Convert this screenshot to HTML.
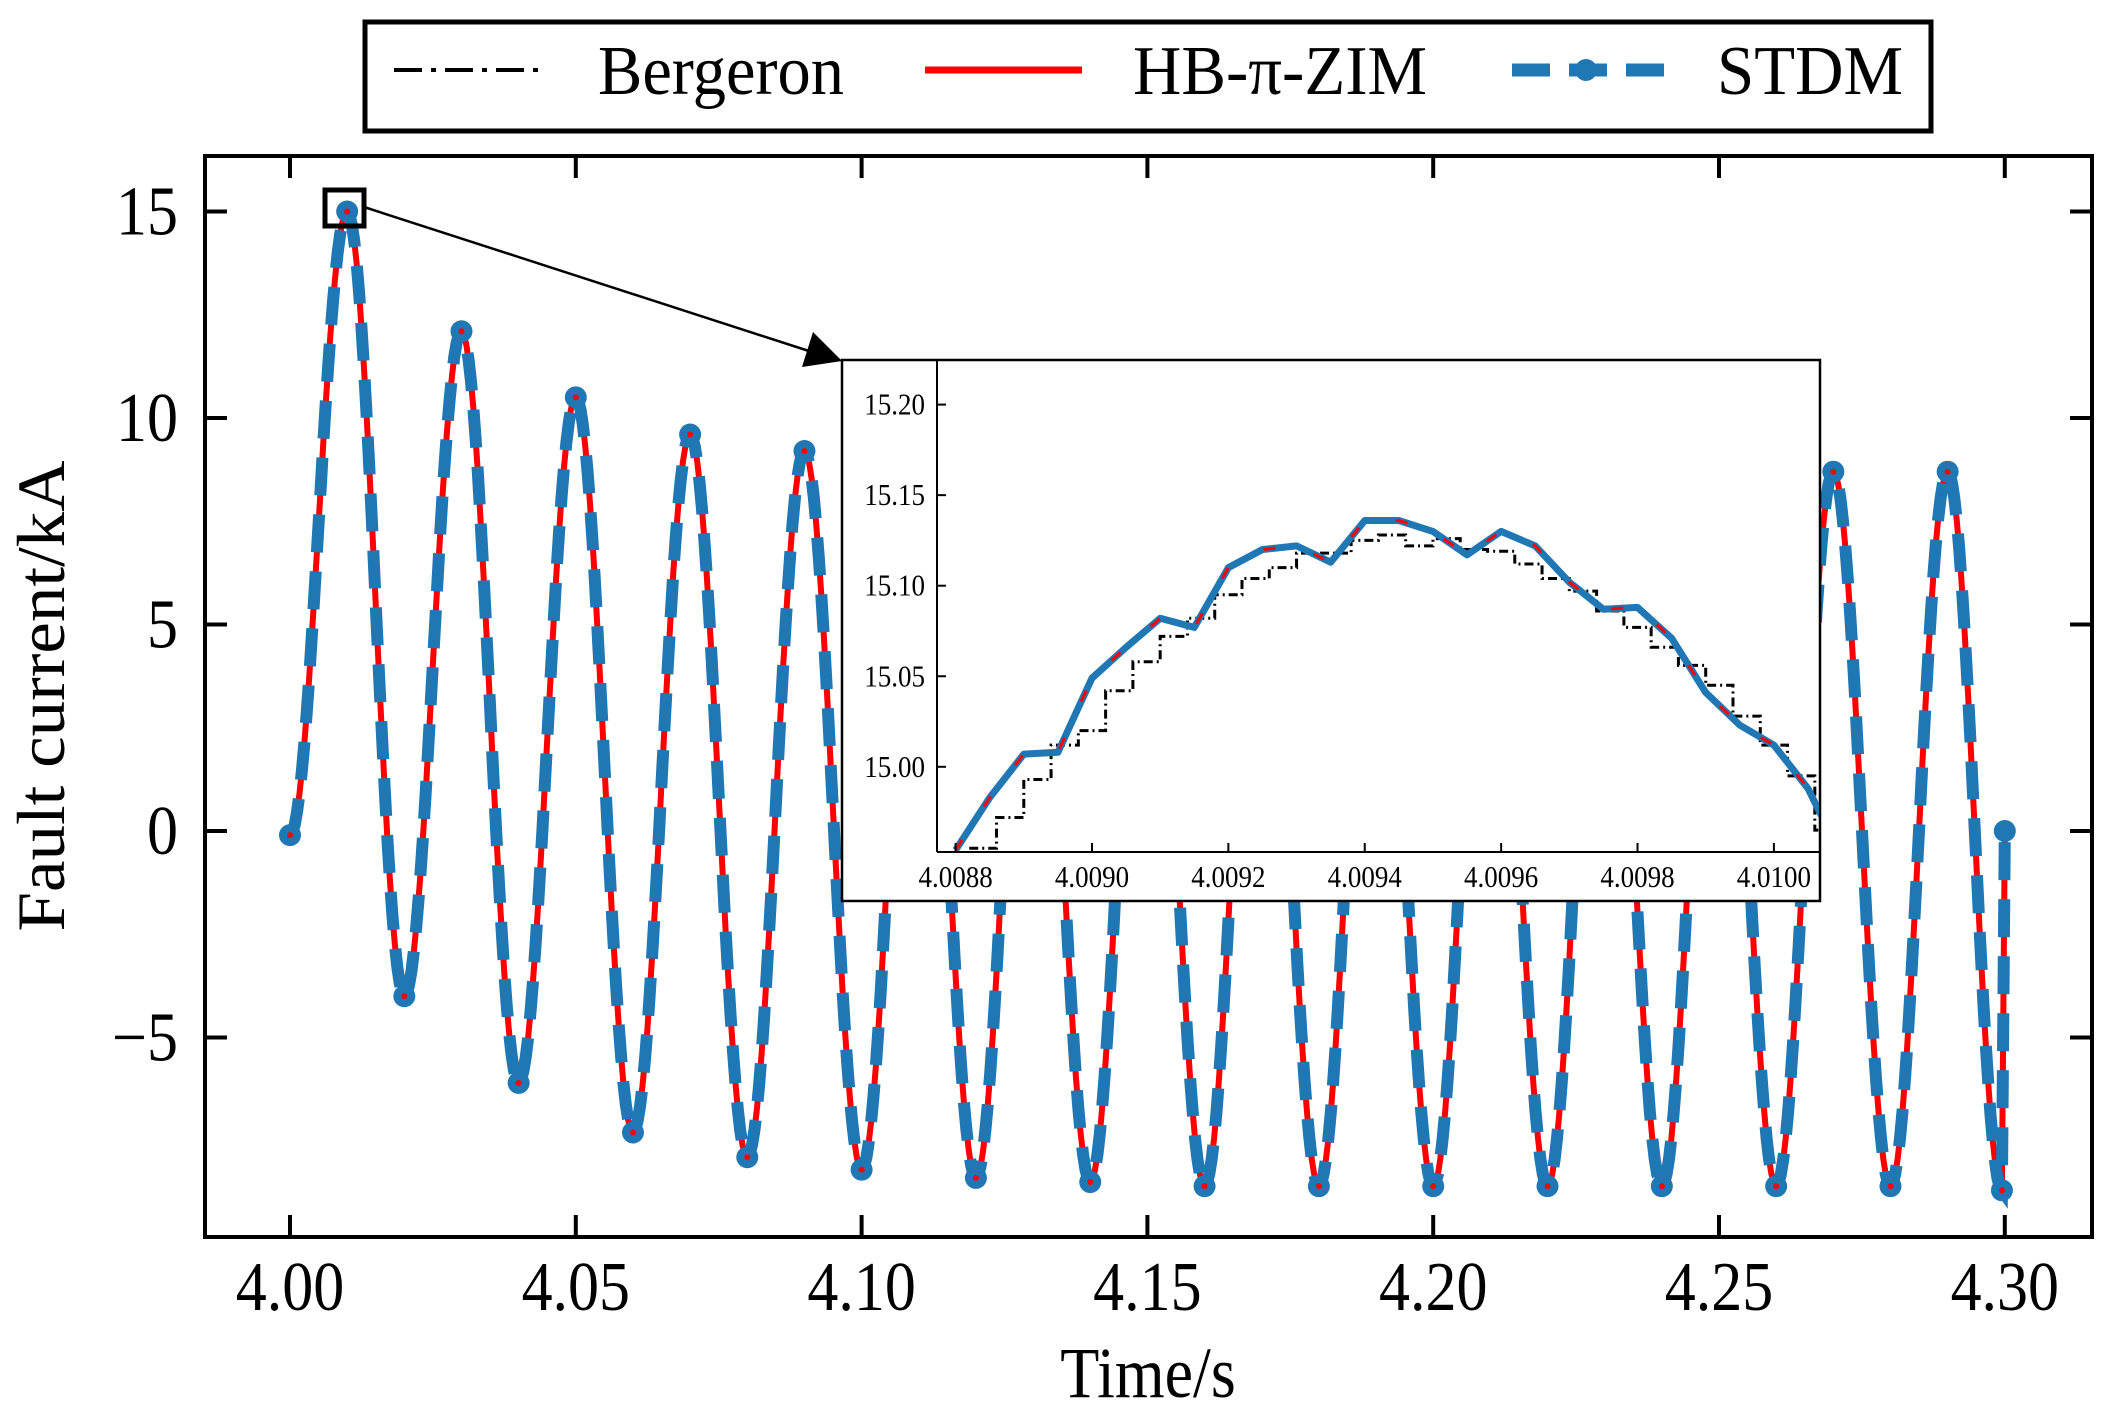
<!DOCTYPE html>
<html><head><meta charset="utf-8"><style>
html,body{margin:0;padding:0;background:#fff;}
svg{display:block;font-family:"Liberation Serif","DejaVu Serif",serif;}
</style></head><body>
<svg id="chart" width="2108" height="1413" viewBox="0 0 2108 1413" xmlns="http://www.w3.org/2000/svg">
<defs>
<clipPath id="mainClip"><rect x="205" y="156" width="1887" height="1081"/></clipPath>
<clipPath id="insetClip"><rect x="937" y="361" width="882" height="491"/></clipPath>
</defs>
<g id="main"></g>
<g id="inset"></g>
<g id="legend"></g>
</svg>
<script>
// ---- main chart data (extrema of the fault current) ----
const extremaTimes = [4.000,4.010,4.020,4.030,4.040,4.050,4.060,4.070,4.080,4.090,4.100,4.110,4.120,4.130,4.140,4.150,4.160,4.170,4.180,4.190,4.200,4.210,4.220,4.230,4.240,4.250,4.260,4.270,4.280,4.290,4.2995];
const extremaValues = [-0.1,15.0,-4.0,12.1,-6.1,10.5,-7.3,9.6,-7.9,9.2,-8.2,9.0,-8.4,8.9,-8.5,8.8,-8.6,8.75,-8.6,8.7,-8.6,8.7,-8.6,8.7,-8.6,8.7,-8.6,8.7,-8.6,8.7,-8.7];
const endTime = 4.300;
const endValue = 0.0;
const xTicks = [4.00,4.05,4.10,4.15,4.20,4.25,4.30];
const xTickLabels = ["4.00","4.05","4.10","4.15","4.20","4.25","4.30"];
const yTicks = [-5,0,5,10,15];
const yTickLabels = ["\u22125","0","5","10","15"];

// ---- inset data ----
const insetTimes = [4.00880,4.00885,4.00890,4.00895,4.00900,4.00905,4.00910,4.00915,4.00920,4.00925,4.00930,4.00935,4.00940,4.00945,4.00950,4.00955,4.00960,4.00965,4.00970,4.00975,4.00980,4.00985,4.00990,4.00995,4.01000,4.01005,4.01008];
const hbValues = [14.954,14.983,15.007,15.008,15.049,15.066,15.082,15.077,15.110,15.120,15.122,15.113,15.136,15.136,15.130,15.117,15.130,15.122,15.102,15.087,15.088,15.071,15.041,15.023,15.012,14.988,14.965];
const bergTimes = [4.00882,4.00886,4.00890,4.00894,4.00898,4.00902,4.00906,4.00910,4.00914,4.00918,4.00922,4.00926,4.00930,4.00934,4.00938,4.00942,4.00946,4.00950,4.00954,4.00958,4.00962,4.00966,4.00970,4.00974,4.00978,4.00982,4.00986,4.00990,4.00994,4.00998,4.01002,4.01006];
const bergValues = [14.955,14.972,14.993,15.012,15.020,15.042,15.058,15.072,15.082,15.095,15.104,15.110,15.118,15.118,15.125,15.128,15.122,15.126,15.120,15.119,15.112,15.104,15.097,15.086,15.077,15.066,15.056,15.045,15.028,15.012,14.995,14.965];
const insetXTicks = [4.0088,4.0090,4.0092,4.0094,4.0096,4.0098,4.0100];
const insetXLabels = ["4.0088","4.0090","4.0092","4.0094","4.0096","4.0098","4.0100"];
const insetYTicks = [15.00,15.05,15.10,15.15,15.20];
const insetYLabels = ["15.00","15.05","15.10","15.15","15.20"];

const NS = "http://www.w3.org/2000/svg";
function mk(tag, attrs, parent){const e=document.createElementNS(NS,tag);for(const k in attrs)e.setAttribute(k,attrs[k]);parent.appendChild(e);return e;}
function place(el,x,y,sy){el.setAttribute('x',0);el.setAttribute('y',0);el.setAttribute('transform','translate('+x+','+y+') scale(1,'+sy+')');}

const X0=290, XPER=5716;
const Y0=831, YPER=41.3;
const xs = t => X0 + (t-4.0)*XPER;
const ys = v => Y0 - v*YPER;

const main = document.getElementById('main');
let pts=[];
for(let i=0;i<extremaTimes.length-1;i++){
  const t0=extremaTimes[i],t1=extremaTimes[i+1],v0=extremaValues[i],v1=extremaValues[i+1];
  const n=24;
  for(let k=0;k<n;k++){const f=k/n;const w=(1-Math.cos(Math.PI*f))/2;pts.push([t0+(t1-t0)*f, v0+(v1-v0)*w]);}
}
pts.push([extremaTimes[extremaTimes.length-1],extremaValues[extremaValues.length-1]]);
pts.push([endTime,endValue]);
const d = pts.map((p,i)=>(i?'L':'M')+xs(p[0]).toFixed(1)+' '+ys(p[1]).toFixed(1)).join(' ');

const gClip = mk('g',{'clip-path':'url(#mainClip)'},main);
const berg = mk('path',{d:d,fill:'none',stroke:'#000','stroke-width':3,'stroke-dasharray':'18 6 4 6'},gClip);


const red = mk('path',{d:d,fill:'none',stroke:'#ff0000','stroke-width':6,'stroke-linejoin':'round'},gClip);


const blue = mk('path',{d:d,fill:'none',stroke:'#1f77b4','stroke-width':12,'stroke-dasharray':'38 19'},gClip);


for(let i=0;i<extremaTimes.length;i++){
  const c=mk('circle',{cx:xs(extremaTimes[i]),cy:ys(extremaValues[i]),r:11,fill:'#1f77b4'},gClip);
  
  
  mk('circle',{cx:xs(extremaTimes[i]),cy:ys(extremaValues[i]),r:3,fill:'#ff0000'},gClip);
}
const mEnd=mk('circle',{cx:xs(endTime),cy:ys(endValue),r:11,fill:'#1f77b4'},gClip);



const frame=mk('rect',{x:205,y:156,width:1887,height:1081,fill:'none',stroke:'#000','stroke-width':4},main);


xTicks.forEach((t,i)=>{
  const x=xs(t);
  mk('line',{x1:x,y1:1237,x2:x,y2:1215,stroke:'#000','stroke-width':4},main);
  mk('line',{x1:x,y1:156,x2:x,y2:178,stroke:'#000','stroke-width':4},main);
  const tx=mk('text',{'font-size':62,'text-anchor':'middle',fill:'#000'},main);
  place(tx,x,1310,1.12);
  tx.textContent=xTickLabels[i];
  
  
});
yTicks.forEach((v,i)=>{
  const y=ys(v);
  mk('line',{x1:205,y1:y,x2:227,y2:y,stroke:'#000','stroke-width':4},main);
  mk('line',{x1:2092,y1:y,x2:2070,y2:y,stroke:'#000','stroke-width':4},main);
  const tx=mk('text',{'font-size':62,'text-anchor':'end',fill:'#000'},main);
  place(tx,178,y+23,1.12);
  tx.textContent=yTickLabels[i];
  
  
});
const xl=mk('text',{'font-size':64,'text-anchor':'middle',fill:'#000'},main);
place(xl,1148,1397,1.12);
xl.textContent='Time/s';


const yl=mk('text',{x:0,y:0,'font-size':68,'text-anchor':'middle',fill:'#000',transform:'translate(64,696) rotate(-90)',textLength:471,lengthAdjust:'spacingAndGlyphs'},main);
yl.textContent='Fault current/kA';



const zb=mk('rect',{x:325,y:190,width:39,height:36,fill:'none',stroke:'#000','stroke-width':5},main);


const ar=mk('line',{x1:364,y1:207,x2:812,y2:352,stroke:'#000','stroke-width':2.5},main);


mk('polygon',{points:'842,361 802,367 813,332',fill:'#000'},main);

// ---- inset ----
const inset=document.getElementById('inset');
mk('rect',{x:842,y:360,width:978,height:541,fill:'#fff',stroke:'#000','stroke-width':2.5},inset);
const IX0=955.6, IXPER=(1773.9-955.6)/0.0012;
const IY0=766.8, IYPER=(766.8-404.6)/0.2;
const ixs=t=>IX0+(t-4.0088)*IXPER;
const iys=v=>IY0-(v-15.0)*IYPER;
const ig=mk('g',{'clip-path':'url(#insetClip)'},inset);
let bd='';
for(let i=0;i<bergTimes.length;i++){
  const x=ixs(bergTimes[i]),y=iys(bergValues[i]);
  if(i===0) bd+='M'+x+' '+y; else {bd+=' L'+x+' '+iys(bergValues[i-1])+' L'+x+' '+y;}
}
bd+=' L'+ixs(4.0101)+' '+iys(bergValues[bergValues.length-1]);
const ib=mk('path',{d:bd,fill:'none',stroke:'#000','stroke-width':3,'stroke-dasharray':'9 4 2 4'},ig);


const hd=insetTimes.map((t,i)=>(i?'L':'M')+ixs(t).toFixed(1)+' '+iys(hbValues[i]).toFixed(1)).join(' ');
const ib2=mk('path',{d:hd,fill:'none',stroke:'#1f77b4','stroke-width':7,'stroke-linejoin':'round'},ig);


const ir=mk('path',{d:hd,fill:'none',stroke:'#ff0000','stroke-width':3,'stroke-dasharray':'12 40'},ig);


mk('line',{x1:937,y1:360,x2:937,y2:852,stroke:'#000','stroke-width':2},inset);
mk('line',{x1:937,y1:852,x2:1820,y2:852,stroke:'#000','stroke-width':2},inset);
insetXTicks.forEach((t,i)=>{
  const x=ixs(t);
  mk('line',{x1:x,y1:852,x2:x,y2:843,stroke:'#000','stroke-width':2},inset);
  const tx=mk('text',{'font-size':27,'text-anchor':'middle',fill:'#000'},inset);
  place(tx,x,887,1.15);
  tx.textContent=insetXLabels[i];
  
  
});
insetYTicks.forEach((v,i)=>{
  const y=iys(v);
  mk('line',{x1:937,y1:y,x2:946,y2:y,stroke:'#000','stroke-width':2},inset);
  const tx=mk('text',{'font-size':27,'text-anchor':'end',fill:'#000'},inset);
  place(tx,925,y+10,1.15);
  tx.textContent=insetYLabels[i];
  
  
});

// ---- legend ----
const lg=document.getElementById('legend');
mk('rect',{x:365,y:22,width:1566,height:109,fill:'#fff',stroke:'#000','stroke-width':5},lg);
const e1=mk('line',{x1:394,y1:70,x2:538,y2:70,stroke:'#000','stroke-width':4,'stroke-dasharray':'28 9 5 9'},lg);


const t1=mk('text',{'font-size':62,fill:'#000',textLength:246,lengthAdjust:'spacingAndGlyphs'},lg);
place(t1,598,94,1.12);
t1.textContent='Bergeron';


const e2=mk('line',{x1:925,y1:70,x2:1082,y2:70,stroke:'#ff0000','stroke-width':7},lg);


const t2=mk('text',{'font-size':62,fill:'#000',textLength:294,lengthAdjust:'spacingAndGlyphs'},lg);
place(t2,1133,94,1.12);
t2.textContent='HB-\u03c0-ZIM';


const e3=mk('line',{x1:1512,y1:70,x2:1664,y2:70,stroke:'#1f77b4','stroke-width':13,'stroke-dasharray':'38 19'},lg);


mk('circle',{cx:1586,cy:70,r:11,fill:'#1f77b4'},lg);
const t3=mk('text',{'font-size':62,fill:'#000',textLength:186,lengthAdjust:'spacingAndGlyphs'},lg);
place(t3,1717,94,1.12);
t3.textContent='STDM';


</script>
</body></html>
